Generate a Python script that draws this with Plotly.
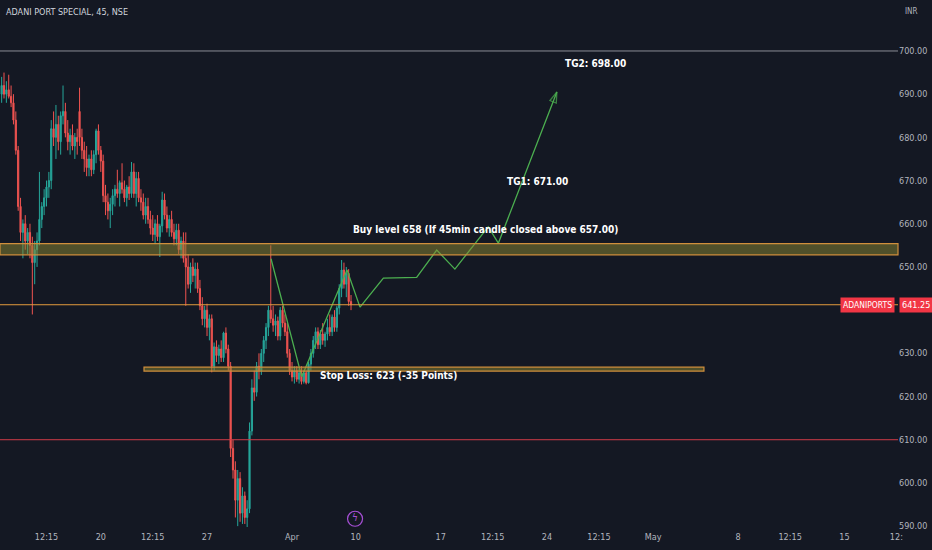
"""ADANI PORT SPECIAL 45min — TradingView-style chart with trade plan."""

import plotly.graph_objects as go

# ---------- 数据 ----------
# bar index (45min bars, 9 per trading day, 0 = Apr 3 first bar)
BARS = list(range(-123, 26))

OPEN = [
    690, 692, 690, 691, 689.5, 688, 684, 677, 664, 658,
    660, 656, 658, 655, 651, 654, 656, 661, 664, 666,
    668.5, 670, 682, 680, 683, 679, 685, 686, 681, 679,
    680.5, 678, 680, 686, 680, 677, 675, 673, 675, 672.5,
    676, 681.5, 677, 674.5, 666.5, 665, 663, 664.5, 666.5, 668,
    667, 669.5, 668, 666, 668.5, 667, 672, 667, 670.5, 666,
    665, 662, 664, 661, 659, 657.5, 660, 657, 659.5, 665.5,
    662, 659, 661, 658, 656.5, 658.5, 654, 656, 652, 650,
    646, 650, 648, 649.5, 645, 641, 638, 640, 636, 638,
    627, 631.5, 629.5, 631, 629, 634.7, 631, 627, 608, 603,
    596, 601, 593, 597, 592, 594, 612, 622, 621, 627,
    626, 630, 633, 636, 640, 638, 636.5, 637.5, 634, 640,
    637, 635, 630, 626, 624.5, 626, 624, 625.5, 623.5, 625.5,
    623.2, 627.5, 630, 633, 635, 632, 634.5, 633, 634.5, 636,
    635, 638.4, 636, 640.5, 645, 649.3, 646, 648.5, 642,
]
HIGH = [
    694, 695, 693, 694.5, 692, 690, 686, 678, 666, 661,
    662, 659, 660, 657, 656, 658, 672, 665, 668, 670,
    672, 684, 686, 687.5, 685, 686, 692, 688, 684, 682,
    683, 681, 682, 691.5, 682, 679, 678, 676, 677, 677,
    682, 683, 678, 676, 669, 667, 666, 668, 669, 672.5,
    670, 674, 670, 669, 671, 674.3, 674, 672, 672, 668,
    667, 666, 666, 663, 662, 661, 662, 660, 667.4, 667,
    664, 662, 663, 660, 660, 660, 657, 658, 658, 653,
    651, 652, 651, 651, 647, 643, 641, 641.5, 639, 639,
    632.5, 633, 632, 633, 635, 636, 632, 628, 610, 605,
    603, 602.5, 599, 598, 596, 614, 624, 626, 628, 630,
    631, 634, 637, 641, 655, 641, 639, 638.5, 640.7, 641,
    639, 637, 631, 628, 627, 627, 626.5, 627, 626, 626,
    628, 631, 634, 636, 636, 635.4, 637, 635, 638, 639,
    639, 640, 641, 646, 651.6, 651, 650, 649.5, 643.5,
]
LOW = [
    688, 689, 688, 689, 687, 683, 676, 663, 656, 652,
    654, 653, 652, 639, 646, 650, 655, 659, 662, 664,
    666, 668, 678, 675, 677, 676, 683, 680, 677, 676,
    677, 675, 676, 678, 675, 672, 671, 671, 671, 671.5,
    674, 676, 672, 665, 662, 661, 659, 662, 664, 666,
    664, 667, 665, 664, 665.5, 666, 666, 664, 665, 663,
    661, 660, 660, 657.5, 656, 655.5, 656, 652.3, 658, 661,
    658, 657, 657, 655, 655, 653, 652, 651, 641, 645,
    644, 646.5, 645, 644, 640, 636.5, 636, 634, 633, 625.6,
    626, 628, 627.5, 628, 628, 630, 626, 606, 601, 592,
    590, 591, 590.5, 590.5, 589.8, 593, 611, 619, 620, 624,
    625, 628, 631, 634, 637, 635, 634, 633, 633, 636,
    634, 629, 625, 623.5, 623, 623.4, 623, 622.8, 623, 622.8,
    623, 626, 629, 631, 631, 631, 632, 631.5, 633, 634,
    634, 635, 635, 639, 643, 645, 643, 641, 640,
]
CLOSE = [
    692, 690, 691, 689.5, 688, 684, 677, 664, 658, 660,
    656, 658, 655, 651, 654, 656, 661, 664, 666, 668.5,
    670, 682, 680, 683, 679, 685, 686, 681, 679, 680.5,
    678, 680, 679, 680, 677, 675, 673, 675, 672.5, 676,
    681.5, 677, 674.5, 666.5, 665, 663, 664.5, 666.5, 668, 667,
    669.5, 668, 666, 668.5, 667, 672, 667, 670.5, 666, 665,
    662, 664, 661, 659, 657.5, 660, 657, 659.5, 665.5, 662,
    659, 661, 658, 656.5, 658.5, 654, 656, 652, 650, 646,
    650, 648, 649.5, 645, 641, 638, 640, 636, 638, 627,
    631.5, 629.5, 631, 629, 634.7, 631, 627, 608, 603, 596,
    601, 593, 597, 592, 594, 612, 622, 621, 627, 626,
    630, 633, 636, 640, 638, 636.5, 637.5, 634, 640, 637,
    635, 630, 626, 624.5, 626, 624, 625.5, 623.5, 625.5, 623.2,
    627.5, 630, 633, 635, 632, 634.5, 633, 634.5, 636, 635,
    638.4, 636, 640.5, 645, 649.3, 646, 648.5, 642, 641.25,
]

# 预期走势（绿色折线）
PATH_BARS = [-8.9, 4.1, 23.3, 28.8, 38.7, 52.8, 61.3, 69.0, 83.1, 87.4, 112.2]
PATH_PRICE = [651.9, 624.6, 649.3, 640.7, 647.4, 647.6, 653.9, 649.5, 659.3, 655.5, 690.5]

# 价位
LAST_PRICE = 641.25
UPPER_LINE = 700.0
LOWER_LINE = 610.0
BUY_ZONE = (652.8, 655.4)
SL_ZONE = (625.9, 626.8)
SL_BARS = (-62.7, 174.5)

# x 轴刻度
TICK_BARS = [-104, -81, -59, -36, 0, 27, 63, 85, 108, 130, 153, 189, 211, 234, 256]
TICK_TEXT = ["12:15", "20", "12:15", "27", "Apr", "10", "17", "12:15", "24",
             "12:15", "May", "8", "12:15", "15", "12:"]
# 640.00 被最新价标签遮住
PRICE_TICKS = [590, 600, 610, 620, 630, 650, 660, 670, 680, 690, 700]

BG = "#141823"
TXT = "#b2b5be"
ORANGE = "#d08f3c"
ZONE_FILL = "rgba(140,135,50,0.5)"
GREEN = "#4caf50"
PURPLE = "#a64fd6"
FONT = "DejaVu Sans Condensed, sans-serif"

fig = go.Figure()

fig.add_trace(go.Candlestick(
    x=BARS, open=OPEN, high=HIGH, low=LOW, close=CLOSE,
    increasing=dict(line=dict(color="#26a69a", width=1), fillcolor="#26a69a"),
    decreasing=dict(line=dict(color="#ef5350", width=1), fillcolor="#ef5350"),
    whiskerwidth=0, hoverinfo="skip",
))

fig.add_trace(go.Scatter(
    x=PATH_BARS, y=PATH_PRICE, mode="lines+markers",
    line=dict(color=GREEN, width=1.3),
    marker=dict(symbol="arrow-open", angleref="previous", color=GREEN,
                size=[0] * (len(PATH_BARS) - 1) + [11],
                line=dict(color=GREEN, width=1.3)),
    hoverinfo="skip",
))

# 闪电图标
fig.add_trace(go.Scatter(
    x=[26.7], y=[591.7], mode="markers+text", text=["ϟ"], textposition="middle center",
    textfont=dict(color=PURPLE, size=10),
    marker=dict(symbol="circle-open", size=15, color=PURPLE, line=dict(width=1.2)),
    hoverinfo="skip", cliponaxis=False,
))

# ---------- 水平线 / 区域 ----------
fig.add_shape(type="line", xref="x domain", x0=0, x1=1, y0=UPPER_LINE, y1=UPPER_LINE,
              line=dict(color="#8a8d96", width=1))
fig.add_shape(type="line", xref="x domain", x0=0, x1=1, y0=LOWER_LINE, y1=LOWER_LINE,
              line=dict(color="#d03c48", width=1))
fig.add_shape(type="line", xref="x domain", x0=0, x1=1, y0=LAST_PRICE, y1=LAST_PRICE,
              line=dict(color="#e39b3d", width=1))
fig.add_shape(type="rect", xref="x domain", x0=0, x1=1, y0=BUY_ZONE[0], y1=BUY_ZONE[1],
              fillcolor=ZONE_FILL, line=dict(color=ORANGE, width=1.2))
fig.add_shape(type="rect", x0=SL_BARS[0], x1=SL_BARS[1], y0=SL_ZONE[0], y1=SL_ZONE[1],
              fillcolor=ZONE_FILL, line=dict(color=ORANGE, width=1.2))

# ---------- 文本 ----------
note = dict(showarrow=False, xanchor="left", font=dict(color="white", size=10, family=FONT))
fig.add_annotation(x=114.8, y=697.0, text="<b>TG2: 698.00</b>", **note)
fig.add_annotation(x=90.2, y=669.7, text="<b>TG1: 671.00</b>", **note)
fig.add_annotation(x=25.0, y=658.6, text="<b>Buy level 658 (If 45min candle closed above 657.00)</b>", **note)
fig.add_annotation(x=11.0, y=624.8, text="<b>Stop Loss: 623 (-35 Points)</b>", **note)

fig.add_annotation(xref="paper", yref="paper", x=0.005, y=0.99, xanchor="left", yanchor="top",
                   text="ADANI PORT SPECIAL, 45, NSE", showarrow=False,
                   font=dict(color="#d1d4dc", size=9, family=FONT))
fig.add_annotation(xref="paper", yref="paper", x=1.006, y=0.99, xanchor="left", yanchor="top",
                   text="INR", showarrow=False, font=dict(color=TXT, size=8, family=FONT))

# 最新价标签
fig.add_annotation(xref="paper", x=0.997, y=LAST_PRICE, xanchor="right", text="ADANIPORTS",
                   showarrow=False, bgcolor="#f23645", borderpad=2,
                   font=dict(color="white", size=8.5, family=FONT))
fig.add_annotation(xref="paper", x=1.001, y=LAST_PRICE, xanchor="left", text="641.25",
                   showarrow=False, bgcolor="#f23645", borderpad=2,
                   font=dict(color="white", size=9, family=FONT))

fig.update_layout(
    width=932, height=550,
    margin=dict(l=0, r=34, t=0, b=20),
    paper_bgcolor=BG, plot_bgcolor=BG,
    showlegend=False,
    font=dict(family=FONT, color=TXT, size=9),
    xaxis=dict(range=[-123.7, 256.7], tickvals=TICK_BARS, ticktext=TICK_TEXT,
               showgrid=False, zeroline=False, rangeslider=dict(visible=False),
               ticks="", showline=False, tickfont=dict(color=TXT, size=9)),
    yaxis=dict(range=[589.1, 711.8], side="right", tickvals=PRICE_TICKS,
               tickformat=".2f", showgrid=False, zeroline=False, ticks="",
               showline=False, tickfont=dict(color=TXT, size=9)),
)

fig.write_html("out.html", config={"displayModeBar": False},
               post_script="document.body.style.margin='0';document.body.style.overflow='hidden';")
